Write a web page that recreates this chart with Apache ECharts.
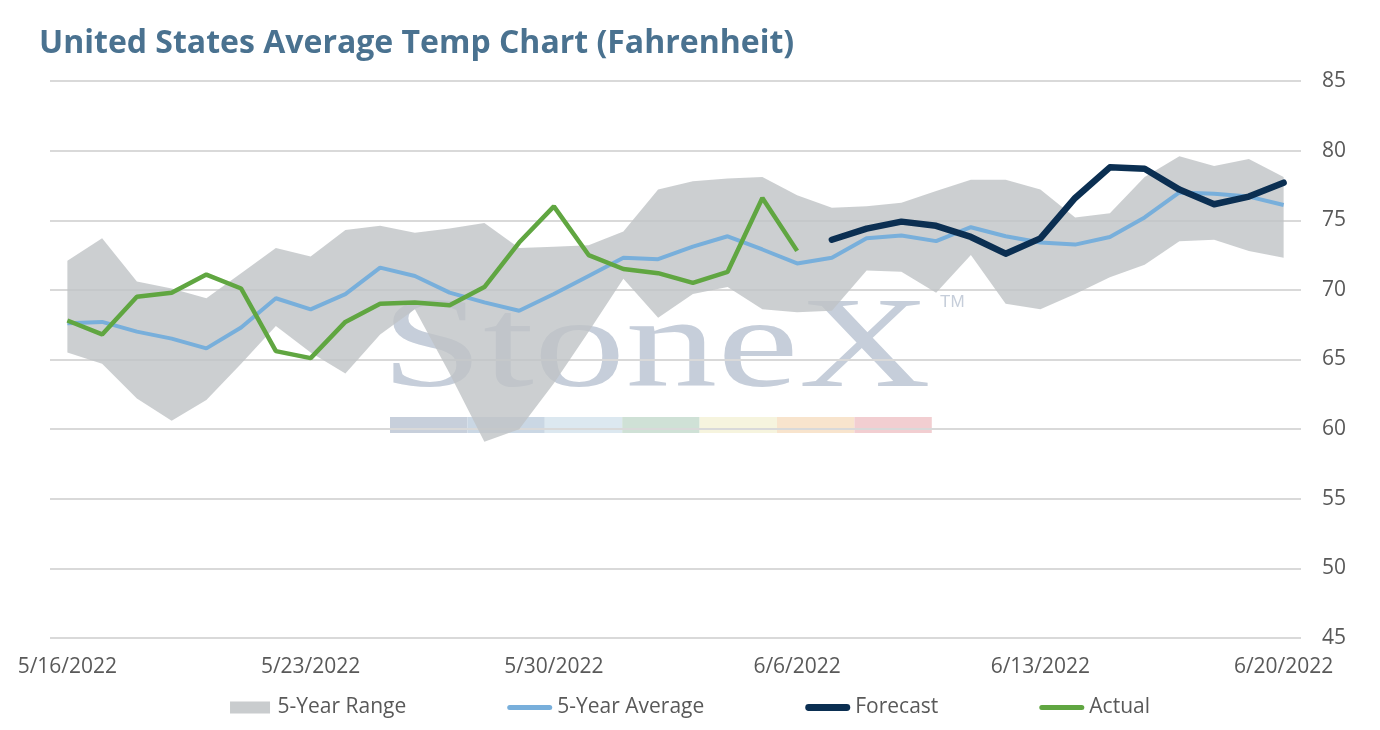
<!DOCTYPE html>
<html>
<head>
<meta charset="utf-8">
<script src="https://cdn.jsdelivr.net/npm/echarts@6/dist/echarts.min.js"></script>
<style>
html,body{margin:0;padding:0;background:#fff;}
#chart{width:1380px;height:730px;}
</style>
</head>
<body>
<div id="chart"></div>
<script>
const categories = [
  "5/16/2022","5/17/2022","5/18/2022","5/19/2022","5/20/2022","5/21/2022","5/22/2022",
  "5/23/2022","5/24/2022","5/25/2022","5/26/2022","5/27/2022","5/28/2022","5/29/2022",
  "5/30/2022","5/31/2022","6/1/2022","6/2/2022","6/3/2022","6/4/2022","6/5/2022",
  "6/6/2022","6/7/2022","6/8/2022","6/9/2022","6/10/2022","6/11/2022","6/12/2022",
  "6/13/2022","6/14/2022","6/15/2022","6/16/2022","6/17/2022","6/18/2022","6/19/2022",
  "6/20/2022"
];
const rangeLow = [65.5,64.7,62.2,60.6,62.1,64.7,67.4,65.5,64.0,66.8,68.6,64.0,59.1,60.0,63.3,67.0,70.8,68.0,69.7,70.2,68.6,68.4,68.5,71.4,71.3,69.8,72.5,69.0,68.6,69.7,70.9,71.8,73.5,73.6,72.8,72.3];
const rangeHigh = [72.1,73.7,70.6,70.1,69.4,71.2,73.0,72.4,74.3,74.6,74.1,74.4,74.8,73.0,73.1,73.2,74.2,77.2,77.8,78.0,78.1,76.8,75.9,76.0,76.25,77.1,77.9,77.9,77.2,75.2,75.5,78.1,79.6,78.9,79.4,78.1];
const avg5 = [67.6,67.7,67.0,66.5,65.8,67.3,69.4,68.6,69.7,71.6,71.0,69.8,69.1,68.5,69.7,71.0,72.3,72.2,73.1,73.85,72.9,71.9,72.3,73.7,73.9,73.5,74.5,73.85,73.4,73.25,73.8,75.2,77.0,76.9,76.7,76.1];
const forecast = [null,null,null,null,null,null,null,null,null,null,null,null,null,null,null,null,null,null,null,null,null,null,73.6,74.4,74.9,74.6,73.8,72.6,73.7,76.6,78.8,78.7,77.2,76.15,76.7,77.7];
const actual = [67.8,66.8,69.5,69.8,71.1,70.1,65.6,65.1,67.7,69.0,69.1,68.9,70.2,73.4,76.0,72.5,71.5,71.2,70.5,71.3,76.6,72.8,null,null,null,null,null,null,null,null,null,null,null,null,null,null];
const yTicks = { min: 45, max: 85, step: 5 };

const rangeSpan = rangeHigh.map((h, i) => +(h - rangeLow[i]).toFixed(2));

const chart = echarts.init(document.getElementById('chart'));
const labelColor = '#595959';
const fontFam = '"Open Sans", "Noto Sans", sans-serif';
const wmColors = ['#C7CFDB','#CAD7E4','#DCE8F0','#CFE1D6','#F6F4DE','#F8E4CD','#F2CED1'];
const graphics = [
  {
    type: 'text', x: 381, y: 287, scaleX: 1.41, z: 0,
    style: { text: 'StoneX', font: '130px "Liberation Serif", "DejaVu Serif", serif', fill: '#C6CEDA' }
  },
  {
    type: 'text', x: 940, y: 294, z: 0,
    style: { text: 'TM', font: '17px "Liberation Sans", sans-serif', fill: '#C6CEDA' }
  }
];
wmColors.forEach((c, i) => {
  graphics.push({ type: 'rect', z: 0, shape: { x: 390 + i * 77.4, y: 417, width: 77.4, height: 16 }, style: { fill: c } });
});

const iconRect = 'path://M0,0H40V12H0Z';
const iconLine = 'path://M2.5,0H42.5A2.5,2.5 0 0 1 42.5,5H2.5A2.5,2.5 0 0 1 2.5,0Z';
const iconThick = 'path://M3.5,0H42.5A3.5,3.5 0 0 1 42.5,7H3.5A3.5,3.5 0 0 1 3.5,0Z';

chart.setOption({
  backgroundColor: '#ffffff',
  animation: false,
  title: {
    text: 'United States Average Temp Chart (Fahrenheit)',
    left: 34, top: 23,
    textStyle: { color: '#4A7290', fontSize: 32, fontWeight: 'bold', fontFamily: fontFam }
  },
  graphic: graphics,
  legend: {
    top: 692,
    left: 'center',
    itemWidth: 45,
    itemHeight: 12,
    itemGap: 101,
    symbolKeepAspect: true,
    textStyle: { color: labelColor, fontSize: 21, fontFamily: fontFam },
    data: [
      { name: '5-Year Range', icon: iconRect },
      { name: '5-Year Average', icon: iconLine },
      { name: 'Forecast', icon: iconThick },
      { name: 'Actual', icon: iconLine }
    ]
  },
  grid: { left: 50, right: 79, top: 81, bottom: 92 },
  xAxis: {
    type: 'category',
    data: categories,
    boundaryGap: true,
    axisLine: { show: false },
    axisTick: { show: false },
    axisLabel: { interval: 6, color: labelColor, fontSize: 21, fontFamily: fontFam, margin: 19 }
  },
  yAxis: {
    type: 'value',
    position: 'right',
    min: yTicks.min, max: yTicks.max, interval: yTicks.step,
    axisLine: { show: false },
    axisTick: { show: false },
    axisLabel: { color: labelColor, fontSize: 21, fontFamily: fontFam, margin: 21 },
    splitLine: { lineStyle: { color: '#D9D9D9', width: 2 } }
  },
  series: [
    {
      name: 'rangeBase', type: 'line', stack: 'range', data: rangeLow,
      symbol: 'none', lineStyle: { width: 0, opacity: 0 }, silent: true
    },
    {
      name: '5-Year Range', type: 'line', stack: 'range', data: rangeSpan,
      symbol: 'none', color: '#C9CCCE',
      lineStyle: { width: 0, opacity: 0 },
      areaStyle: { color: '#BFC3C5', opacity: 0.8 }
    },
    {
      name: '5-Year Average', type: 'line', data: avg5, symbol: 'none', color: '#78AFDB',
      lineStyle: { width: 4, color: '#78AFDB' }
    },
    {
      name: 'Actual', type: 'line', data: actual, symbol: 'none', color: '#60A641',
      lineStyle: { width: 4.5, color: '#60A641' }
    },
    {
      name: 'Forecast', type: 'line', data: forecast, symbol: 'none', color: '#0B2F52',
      lineStyle: { width: 6.5, color: '#0B2F52', cap: 'round', join: 'round' }
    }
  ]
});
</script>
</body>
</html>
